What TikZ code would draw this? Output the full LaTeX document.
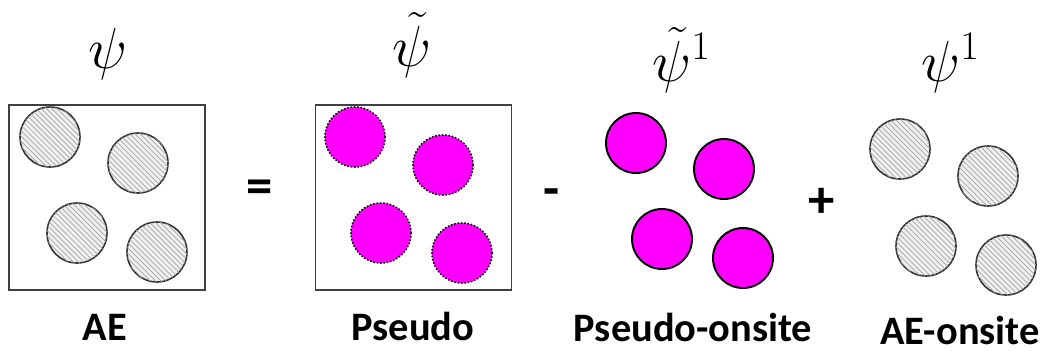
\RequirePackage{fix-cm}
\documentclass[tikz,border=0pt]{standalone}
\usepackage{fontspec}
\setsansfont{Carlito}
\usepackage{tikz}
\usetikzlibrary{patterns}
\definecolor{pseudomag}{RGB}{255,0,255}
\tikzset{
  panel/.style   ={draw=black!75,line width=1.1pt,minimum width=3.92cm,minimum height=3.7cm},
  aeatom/.style  ={circle,draw=black!80,line width=0.9pt,minimum size=1.2cm,fill=gray!12,
                   postaction={pattern=north west lines,pattern color=gray!70}},
  psatom/.style  ={circle,draw=black,densely dotted,line width=0.9pt,minimum size=1.2cm,fill=pseudomag},
  osatom/.style  ={circle,draw=black,line width=1.1pt,minimum size=1.2cm,fill=pseudomag},
  caption/.style ={anchor=base,font=\sffamily\bfseries\fontsize{23}{26}\selectfont},
  oper/.style    ={font=\sffamily\bfseries\fontsize{30}{34}\selectfont},
  wave/.style    ={anchor=base west,inner sep=0pt,font=\fontsize{33}{38}\selectfont}
}

\begin{document}
\begin{tikzpicture}[x=0.02cm,y=-0.02cm]
    \useasboundingbox (0,0) rectangle (1046,352);
    % wave functions
    \node[wave] (psiae)  at (88,68)  {$\psi$};
    \node[wave] (psips)  at (392,66) {$\tilde{\psi}$};
    \node[wave] (psipo)  at (652,81) {$\tilde{\psi}^1$};
    \node[wave] (psiao)  at (921,81) {$\psi^1$};
    % boxes
    \node[panel] (boxae) at (107,197.5) {};
    \node[panel] (boxps) at (413.5,197.5) {};
    % all electron
    \node[aeatom] (ae1) at (50,137)  {};
    \node[aeatom] (ae2) at (138,163) {};
    \node[aeatom] (ae3) at (77,233)  {};
    \node[aeatom] (ae4) at (157,252) {};
    % pseudo
    \node[psatom] (ps1) at (355,137) {};
    \node[psatom] (ps2) at (443,165) {};
    \node[psatom] (ps3) at (381,233) {};
    \node[psatom] (ps4) at (462,253) {};
    % pseudo onsite
    \node[osatom] (po1) at (636,143) {};
    \node[osatom] (po2) at (724,169) {};
    \node[osatom] (po3) at (662,239) {};
    \node[osatom] (po4) at (743,258) {};
    % ae onsite
    \node[aeatom] (ao1) at (900,149)  {};
    \node[aeatom] (ao2) at (988,176)  {};
    \node[aeatom] (ao3) at (926,246)  {};
    \node[aeatom] (ao4) at (1006,265) {};
    % operators
    \node[oper] (eq)    at (260,192) {=};
    \node[oper] (minus) at (552,198) {-};
    \node[oper] (plus)  at (822,203) {+};
    % captions
    \node[caption] (capae) at (105,340) {AE};
    \node[caption] (capps) at (413,340) {Pseudo};
    \node[caption] (cappo) at (693,341) {Pseudo-onsite};
    \node[caption] (capao) at (960,344) {AE-onsite};
  \end{tikzpicture}
\end{document}
